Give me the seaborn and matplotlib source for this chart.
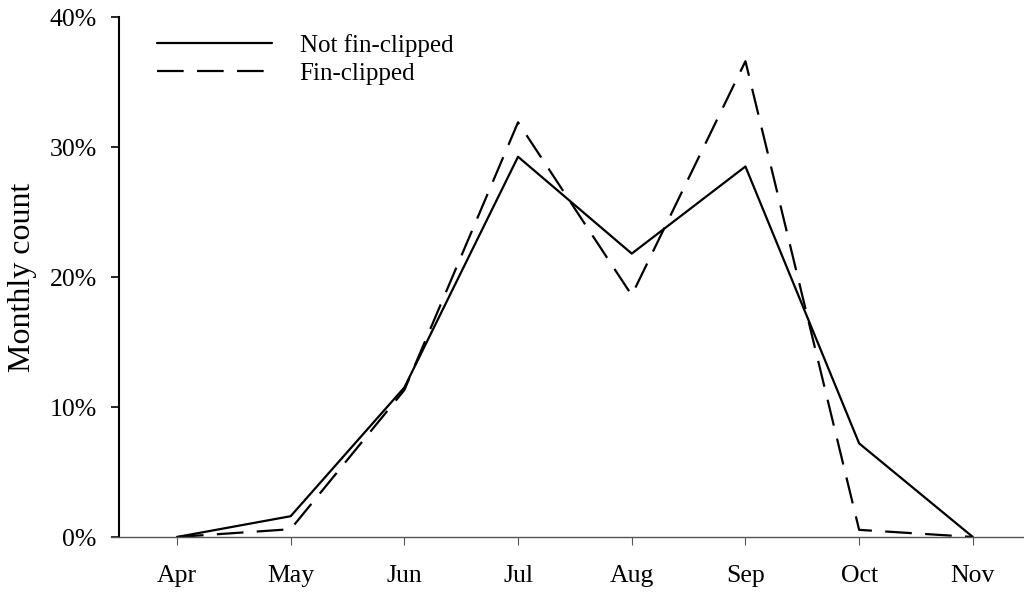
import matplotlib
matplotlib.use("Agg")
import matplotlib.pyplot as plt
import seaborn as sns
import pandas as pd
import numpy as np
from matplotlib.ticker import FuncFormatter

months = ["Apr", "May", "Jun", "Jul", "Aug", "Sep", "Oct", "Nov"]
not_clipped = [0.0, 1.6, 11.5, 29.25, 21.8, 28.5, 7.2, 0.0]
fin_clipped = [0.0, 0.6, 11.3, 31.9, 18.6, 36.6, 0.55, 0.0]
series_names = ["Not fin-clipped", "Fin-clipped"]

df = pd.DataFrame({
    "pos": list(range(len(months))) * 2,
    "value": not_clipped + fin_clipped,
    "group": [series_names[0]] * len(months) + [series_names[1]] * len(months),
})

sns.set_theme(style="ticks")
plt.rcParams["font.family"] = ["Liberation Serif", "DejaVu Serif"]
plt.rcParams["text.color"] = "black"
plt.rcParams["axes.labelcolor"] = "black"

fig = plt.figure(figsize=(10.24, 5.92), dpi=100)
ax = fig.add_axes([111 / 1024, (592 - 537) / 592, (1024 - 111) / 1024, (537 - 17) / 592])

sns.lineplot(data=df, x="pos", y="value", style="group", style_order=series_names,
             dashes={series_names[0]: "", series_names[1]: (12, 6)},
             color="black", linewidth=1.6, ax=ax, legend=True, sort=False)

ax.set_xlim(-0.58, 7.45)
ax.set_ylim(0, 40)
ax.set_xticks(range(len(months)))
ax.set_xticklabels(months)
ax.set_yticks([0, 10, 20, 30, 40])
ax.yaxis.set_major_formatter(FuncFormatter(lambda v, p: f"{int(v)}%"))
ax.set_xlabel("")
ax.set_ylabel("Monthly count", fontsize=23, labelpad=9, color="black")

for s in ["top", "right"]:
    ax.spines[s].set_visible(False)
ax.spines["left"].set_position(("data", -0.51))
ax.spines["left"].set_linewidth(1.5)
ax.spines["left"].set_color("black")
ax.spines["bottom"].set_linewidth(1.0)
ax.spines["bottom"].set_color("#555555")

ax.tick_params(axis="y", length=6, width=1.2, colors="black", labelsize=18.5, pad=10, direction="out")
ax.tick_params(axis="x", length=6, width=0.8, colors="#555555", labelcolor="black", labelsize=18.5, pad=14, direction="out")
ax.set_facecolor("white")
fig.patch.set_facecolor("white")

handles, labels = ax.get_legend_handles_labels()
leg = ax.legend(handles, labels, loc="upper left", bbox_to_anchor=(157 / 1024, (592 - 34) / 592),
                bbox_transform=fig.transFigure, frameon=False, fontsize=18,
                handlelength=4.6, handletextpad=1.1, labelspacing=0.22, borderaxespad=0, borderpad=0)
for t in leg.get_texts():
    t.set_color("black")

fig.savefig("out.png", dpi=100)
